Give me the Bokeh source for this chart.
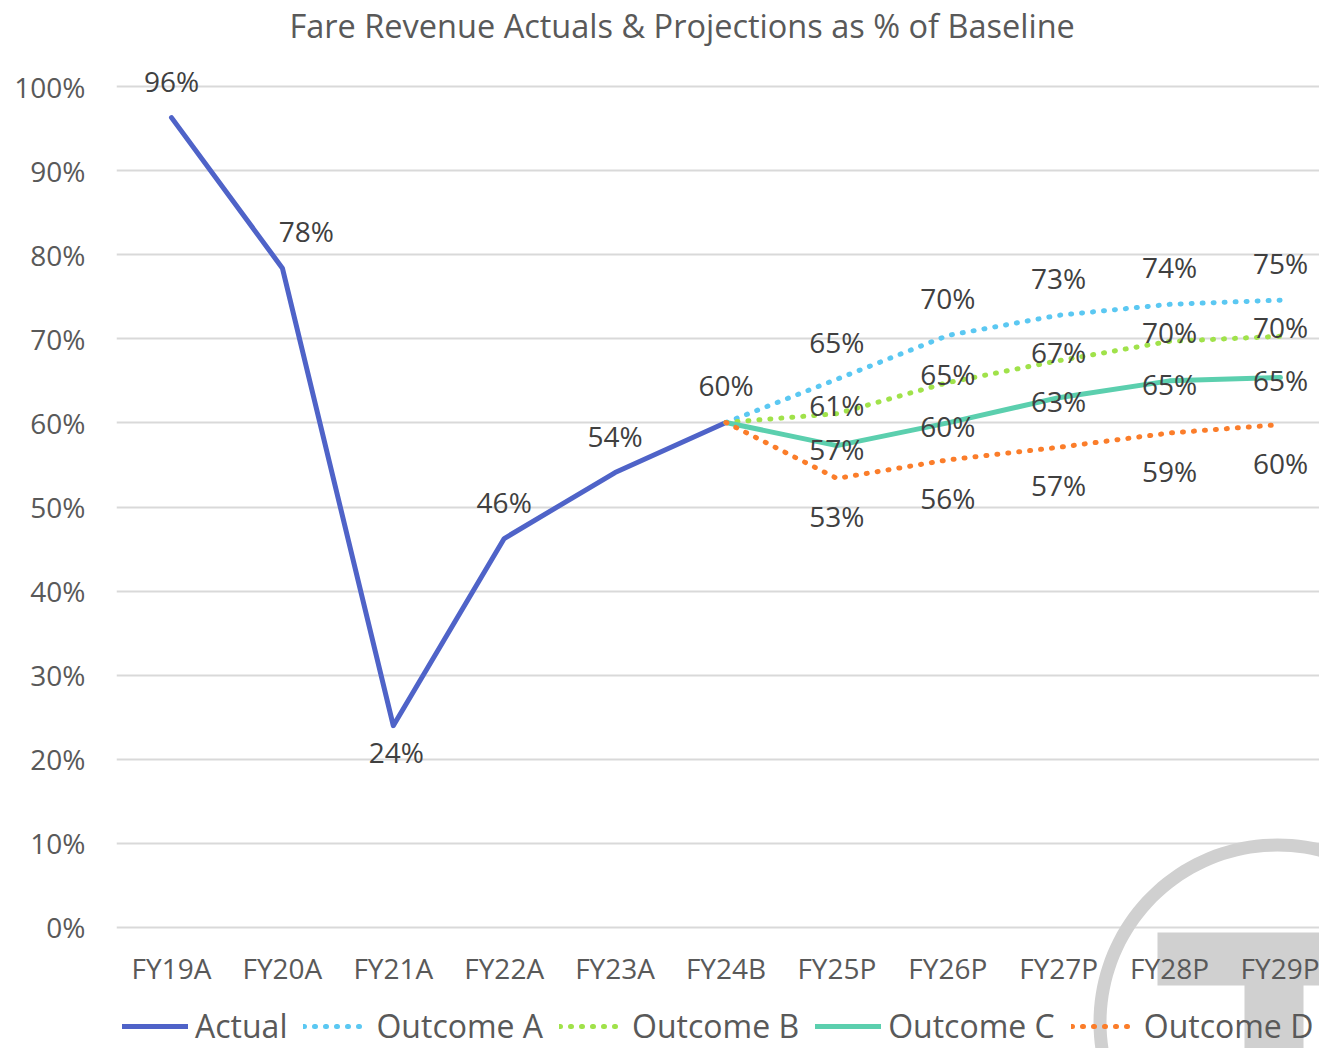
import math
from bokeh.plotting import figure
from bokeh.models import (Range1d, FixedTicker, Legend, LegendItem, ColumnDataSource,
                          BoxAnnotation, PolyAnnotation, Title)
from bokeh.core.properties import value
from bokeh.embed import file_html
from bokeh.resources import INLINE

# ---------------- data ----------------
categories = ["FY19A", "FY20A", "FY21A", "FY22A", "FY23A", "FY24B",
              "FY25P", "FY26P", "FY27P", "FY28P", "FY29P"]
actual_cats = categories[0:6]
proj_cats = categories[5:11]
actual = [0.963, 0.784, 0.240, 0.4625, 0.541, 0.6005]
outcome_a = [0.6005, 0.652, 0.704, 0.728, 0.741, 0.746]
outcome_b = [0.6005, 0.611, 0.648, 0.674, 0.697, 0.703]
outcome_c = [0.6005, 0.573, 0.600, 0.630, 0.650, 0.654]
outcome_d = [0.6005, 0.534, 0.556, 0.571, 0.588, 0.598]
y_ticks = [0.0, 0.1, 0.2, 0.3, 0.4, 0.5, 0.6, 0.7, 0.8, 0.9, 1.0]
y_tick_labels = ["0%", "10%", "20%", "30%", "40%", "50%", "60%", "70%", "80%", "90%", "100%"]
title_text = "Fare Revenue Actuals & Projections as % of Baseline"
series_names = ["Actual", "Outcome A", "Outcome B", "Outcome C", "Outcome D"]

# ---------------- style ----------------
FONT = "Open Sans"
C_ACTUAL = "#4F63C8"
C_A = "#5BC8F2"
C_B = "#A0E24A"
C_C = "#5BCFAE"
C_D = "#FB7D2A"
LABEL_COLOR = "#404040"
AXIS_COLOR = "#595959"
GRID_COLOR = "#D9D9D9"
WM_COLOR = "#D0D0D0"

pos = {c: i for i, c in enumerate(categories)}

p = figure(width=1319, height=1048,
           x_range=Range1d(-0.496, 10.352), y_range=Range1d(-0.1439, 1.0464),
           output_backend="svg", toolbar_location=None,
           min_border_left=116, min_border_right=0,
           min_border_top=47, min_border_bottom=0)
p.outline_line_color = None
p.background_fill_color = "white"
p.border_fill_color = "white"

p.title = Title(text=title_text, align="left", text_font=FONT,
                text_font_size="32.5px", text_color=AXIS_COLOR,
                text_font_style="normal", standoff=0, offset=173)

# watermark (decoration)
cx, cy, R, r = 1277, 1022, 184, 171
n = 160
outer_x = [cx + R * math.cos(2 * math.pi * k / n) for k in range(n + 1)]
outer_y = [cy + R * math.sin(2 * math.pi * k / n) for k in range(n + 1)]
inner_x = [cx + r * math.cos(-2 * math.pi * k / n) for k in range(n + 1)]
inner_y = [cy + r * math.sin(-2 * math.pi * k / n) for k in range(n + 1)]
ring = PolyAnnotation(xs=outer_x + inner_x, ys=outer_y + inner_y,
                      xs_units="canvas", ys_units="canvas",
                      fill_color=WM_COLOR, fill_alpha=1.0, line_color=None,
                      level="underlay")
p.add_layout(ring)
t_bar = BoxAnnotation(left=1157, right=1340, top=932, bottom=985,
                      left_units="canvas", right_units="canvas",
                      top_units="canvas", bottom_units="canvas",
                      fill_color=WM_COLOR, fill_alpha=1.0, line_color=None,
                      level="underlay")
t_stem = BoxAnnotation(left=1244, right=1303, top=984, bottom=1060,
                       left_units="canvas", right_units="canvas",
                       top_units="canvas", bottom_units="canvas",
                       fill_color=WM_COLOR, fill_alpha=1.0, line_color=None,
                       level="underlay")
p.add_layout(t_bar)
p.add_layout(t_stem)

# axes
p.xaxis.fixed_location = 0
p.xaxis.ticker = FixedTicker(ticks=list(range(len(categories))))
p.xaxis.major_label_overrides = {i: c for i, c in enumerate(categories)}
p.xaxis.axis_line_color = None
p.xaxis.major_tick_line_color = None
p.xaxis.minor_tick_line_color = None
p.xaxis.major_tick_out = 0
p.xaxis.major_tick_in = 0
p.xaxis.major_label_text_font = FONT
p.xaxis.major_label_text_font_size = "28px"
p.xaxis.major_label_text_color = AXIS_COLOR
p.xaxis.major_label_standoff = 22

p.yaxis.ticker = FixedTicker(ticks=y_ticks)
p.yaxis.major_label_overrides = {t: l for t, l in zip(y_ticks, y_tick_labels)}
p.yaxis.axis_line_color = None
p.yaxis.major_tick_line_color = None
p.yaxis.minor_tick_line_color = None
p.yaxis.major_tick_out = 0
p.yaxis.major_tick_in = 0
p.yaxis.major_label_text_font = FONT
p.yaxis.major_label_text_font_size = "28px"
p.yaxis.major_label_text_color = AXIS_COLOR
p.yaxis.major_label_standoff = 31

p.xgrid.visible = False
p.ygrid.ticker = FixedTicker(ticks=y_ticks)
p.ygrid.grid_line_color = GRID_COLOR
p.ygrid.grid_line_width = 2

# lines
ax = [pos[c] for c in actual_cats]
px = [pos[c] for c in proj_cats]
r_act = p.line(ax, actual, line_color=C_ACTUAL, line_width=5, line_join="round", line_cap="round")
r_a = p.line(px, outcome_a, line_color=C_A, line_width=5, line_dash="1 10", line_cap="round")
r_b = p.line(px, outcome_b, line_color=C_B, line_width=5, line_dash="1 10", line_cap="round")
r_c = p.line(px, outcome_c, line_color=C_C, line_width=5, line_join="round", line_cap="round")
r_d = p.line(px, outcome_d, line_color=C_D, line_width=5, line_dash="1 10", line_cap="round")

# data labels
def pct(v):
    return f"{round(v * 100)}%"

label_specs = [
    (ax, actual, [0, 24, 3, 0, 0, 0], [-37, -37, 26, -37, -37, -37]),
    (px[1:], outcome_a[1:], [0] * 5, [-37] * 5),
    (px[1:], outcome_b[1:], [0] * 5, [-9] * 5),
    (px[1:], outcome_c[1:], [0] * 5, [3] * 5),
    (px[1:], outcome_d[1:], [0] * 5, [38] * 5),
]
for xs, ys, xoffs, yoffs in label_specs:
    src = ColumnDataSource(dict(x=xs, y=ys, t=[pct(v) for v in ys], xo=xoffs, yo=yoffs))
    p.text(x="x", y="y", text="t", x_offset="xo", y_offset="yo", source=src,
           text_font=value(FONT), text_font_size="28px", text_color=LABEL_COLOR,
           text_align="center", text_baseline="middle")

legend = Legend(items=[LegendItem(label=nm, renderers=[rr]) for nm, rr in
                       zip(series_names, [r_act, r_a, r_b, r_c, r_d])],
                orientation="horizontal", location=(6, 1),
                label_text_font=FONT, label_text_font_size="32px",
                label_text_color=AXIS_COLOR, glyph_width=66, glyph_height=32,
                label_standoff=7, spacing=16, padding=0, margin=0,
                border_line_color=None, background_fill_alpha=0)
p.add_layout(legend)

open("out.html", "w").write(file_html(p, INLINE))
